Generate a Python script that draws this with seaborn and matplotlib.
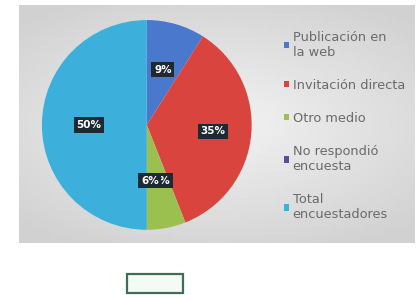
import numpy as np
import matplotlib
matplotlib.use('Agg')
import matplotlib.pyplot as plt
from matplotlib.patches import Rectangle, Patch
import seaborn as sns

# Data
categories = ['Publicación en\nla web', 'Invitación directa', 'Otro medio',
              'No respondió\nencuesta', 'Total\nencuestadores']
values = [9, 35, 6, 0, 50]
colors = ['#4a78cc', '#d9443f', '#9cc04f', '#5a4d9c', '#3cb0da']

sns.set_style('white')
plt.rcParams['font.family'] = ['DejaVu Sans']

fig = plt.figure(figsize=(4.17, 2.95), dpi=100)
fig.patch.set_facecolor('white')

# grey gradient panel behind the chart
bg = fig.add_axes([0.046, 0.176, 0.949, 0.807])
yy, xx = np.mgrid[-1:1:120j, -1:1:240j]
shade = 0.95 - 0.10 * np.clip(np.sqrt((xx * 0.9) ** 2 + (yy * 1.1) ** 2), 0, 1.3)
bg.imshow(shade, cmap='gray', vmin=0, vmax=1, aspect='auto', interpolation='bilinear')
bg.axis('off')

# pie
ax = fig.add_axes([0.098, 0.217, 0.508, 0.719])
wedges, texts, autotexts = ax.pie(values, colors=colors, startangle=90, counterclock=False,
                                  autopct='%d%%', pctdistance=0.55,
                                  wedgeprops=dict(linewidth=0))
ax.set_xlim(-1.01, 1.01)
ax.set_ylim(-1.01, 1.01)
ax.set_aspect('equal')
for t in autotexts:
    t.set_color('white')
    t.set_fontsize(7.5)
    t.set_fontweight('bold')
    t.set_bbox(dict(boxstyle='square,pad=0.25', facecolor='#1d2a33', edgecolor='none'))
# 35% label sits a bit further out, 0% hides behind 6%
x, y = autotexts[1].get_position()
autotexts[1].set_position((x * 1.15, y * 1.15))
x, y = autotexts[2].get_position()
autotexts[2].set_position((0.03, y + 0.01))
autotexts[2].set_zorder(5)
autotexts[3].set_position((0.14, y + 0.01))
autotexts[3].set_zorder(4)

handles = [Patch(facecolor=c, edgecolor='none') for c in colors]
fig.legend(handles, categories, loc='upper left', bbox_to_anchor=(0.652, 0.935),
           frameon=False, fontsize=9.3, labelcolor='#6a6a6a', handlelength=0.4,
           handleheight=0.4, handletextpad=0.3, labelspacing=1.55)

# small green box under the chart
fig.patches.append(Rectangle((0.305, 0.007), 0.133, 0.064, transform=fig.transFigure,
                             facecolor='#f4fbf6', edgecolor='#3f6e55', linewidth=1.6))

fig.savefig('out.png', dpi=100)
